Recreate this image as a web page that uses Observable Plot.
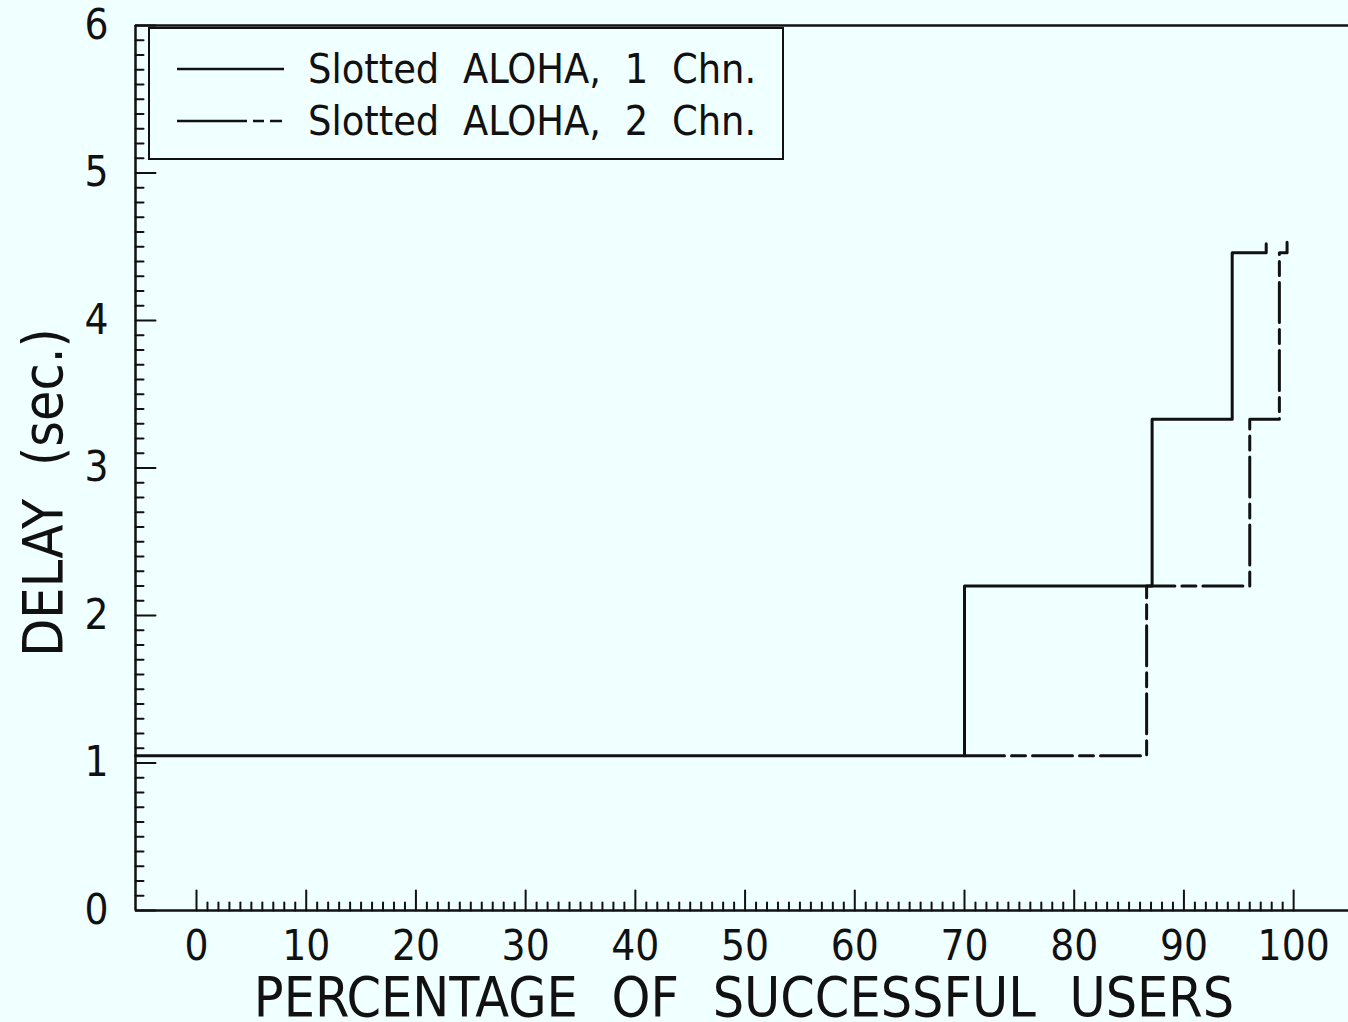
<!DOCTYPE html>
<html><head><meta charset="utf-8">
<script src="https://cdn.jsdelivr.net/npm/d3@7"></script>
<script src="https://cdn.jsdelivr.net/npm/@observablehq/plot@0.6"></script>
<style>
html,body{margin:0;padding:0;background:#f0ffff;}
#wrap{position:relative;width:1348px;height:1022px;overflow:hidden;background:#f0ffff;font-family:"DejaVu Sans Condensed","DejaVu Sans",sans-serif;color:#111;}
#legend{position:absolute;left:148px;top:27px;width:632px;height:129px;border:2px solid #111;background:#f0ffff;font-size:41px;}
#legend svg{position:absolute;left:0;top:0;}
#legend .row{position:absolute;left:158px;white-space:nowrap;word-spacing:12px;line-height:1;}
.axtitle{position:absolute;font-size:55px;text-align:center;white-space:nowrap;}
#xtitle{left:244px;width:1000px;top:974px;height:46px;line-height:46px;word-spacing:18px;}
#ytitle{left:-157px;width:400px;top:465px;height:55px;line-height:55px;transform:rotate(-90deg);transform-origin:200px 27.5px;word-spacing:17px;}
</style></head>
<body><div id="wrap"></div>
<script>
const seriesNames = ["Slotted ALOHA, 1 Chn.", "Slotted ALOHA, 2 Chn."];
const chn1X = [-5.56, 70, 70, 87.1, 87.1, 94.4, 94.4, 97.5, 97.5];
const chn1Y = [1.05, 1.05, 2.2, 2.2, 3.33, 3.33, 4.46, 4.46, 4.52];
const chn2X = [70, 86.6, 86.6, 96.0, 96.0, 98.7, 98.7, 99.4, 99.4];
const chn2Y = [1.05, 1.05, 2.2, 2.2, 3.33, 3.33, 4.46, 4.46, 4.53];
const xTickLabels = [0, 10, 20, 30, 40, 50, 60, 70, 80, 90, 100];
const yTickLabels = [0, 1, 2, 3, 4, 5, 6];
const xLabel = "PERCENTAGE OF SUCCESSFUL USERS";
const yLabel = "DELAY (sec.)";
const xDomain = [-5.56, 105.0];
const yDomain = [0, 6];

const chn1 = chn1X.map((x, i) => ({x, y: chn1Y[i]}));
const chn2 = chn2X.map((x, i) => ({x, y: chn2Y[i]}));
const xMinor = d3.range(0, 101, 1).filter(v => v % 10 !== 0);
const yMinor = d3.range(0, 61, 1).filter(v => v % 10 !== 0).map(v => v / 10);
const tickShape = {draw(ctx, l) { ctx.moveTo(0, 0); ctx.lineTo(0, -l); }};
const ink = "#111";
const font = "'DejaVu Sans Condensed','DejaVu Sans',sans-serif";

const chart = Plot.plot({
  width: 1348, height: 1022,
  marginLeft: 135, marginRight: 0, marginTop: 25, marginBottom: 112,
  style: {background: "#f0ffff", color: ink, overflow: "visible"},
  x: {domain: xDomain},
  y: {domain: yDomain},
  marks: [
    Plot.axisX(xTickLabels, {tickSize: 0, tickPadding: 20, fontSize: 42, fontFamily: font, tickFormat: d => String(d), label: null}),
    Plot.axisY(yTickLabels, {tickSize: 0, tickPadding: 27, fontSize: 42, fontFamily: font, tickFormat: d => String(d), label: null}),
    Plot.vector(xMinor, {x: d => d, frameAnchor: "bottom", length: 8, rotate: 0, anchor: "start", shape: tickShape, stroke: ink, strokeWidth: 2}),
    Plot.vector(xTickLabels, {x: d => d, frameAnchor: "bottom", length: 20, rotate: 0, anchor: "start", shape: tickShape, stroke: ink, strokeWidth: 2}),
    Plot.vector(yMinor, {y: d => d, frameAnchor: "left", length: 8, rotate: 90, anchor: "start", shape: tickShape, stroke: ink, strokeWidth: 2}),
    Plot.vector(yTickLabels, {y: d => d, frameAnchor: "left", length: 20, rotate: 90, anchor: "start", shape: tickShape, stroke: ink, strokeWidth: 2}),
    Plot.ruleY([yDomain[0], yDomain[1]], {stroke: ink, strokeWidth: 2.5}),
    Plot.ruleX([xDomain[0]], {stroke: ink, strokeWidth: 2.5}),
    Plot.line(chn1, {x: "x", y: "y", stroke: ink, strokeWidth: 3}),
    Plot.line(chn2, {x: "x", y: "y", stroke: ink, strokeWidth: 3, strokeDasharray: "40,7,14,7"})
  ]
});
const wrap = document.getElementById("wrap");
wrap.appendChild(chart);

// axis titles
const xt = document.createElement("div");
xt.id = "xtitle"; xt.className = "axtitle"; xt.textContent = xLabel;
wrap.appendChild(xt);
const yt = document.createElement("div");
yt.id = "ytitle"; yt.className = "axtitle"; yt.textContent = yLabel;
wrap.appendChild(yt);

// legend overlay
const legend = document.createElement("div");
legend.id = "legend";
const dashes = [null, "70,6,11,6,12"];
let svgL = `<svg width="150" height="129">`;
seriesNames.forEach((n, i) => {
  const y = i === 0 ? 40 : 92;
  svgL += `<line x1="27" x2="134" y1="${y}" y2="${y}" stroke="${ink}" stroke-width="2.5" ${dashes[i] ? `stroke-dasharray="${dashes[i]}"` : ""}/>`;
});
svgL += `</svg>`;
legend.innerHTML = svgL + seriesNames.map((n, i) => `<div class="row" style="top:${i === 0 ? 20 : 72}px">${n}</div>`).join("");
wrap.appendChild(legend);
</script>
</body></html>
